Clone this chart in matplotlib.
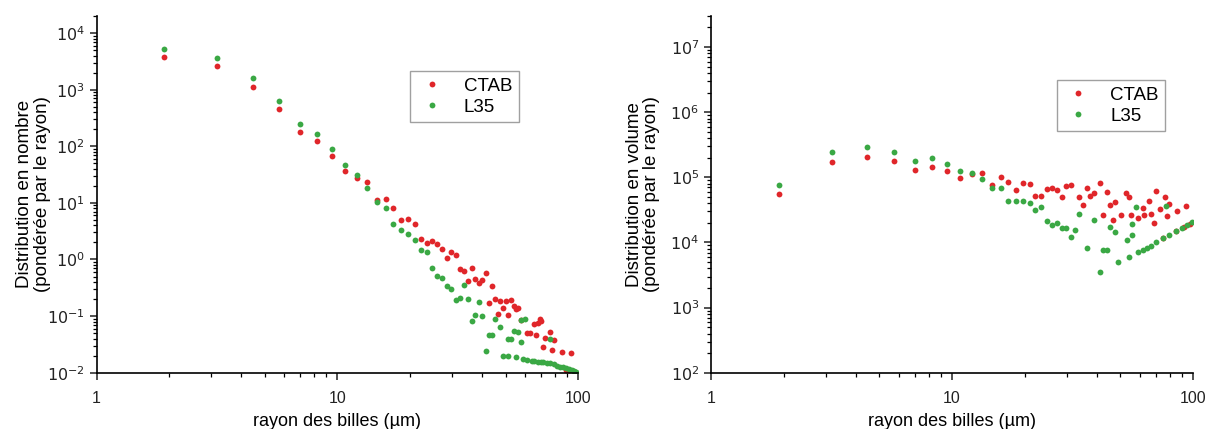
import matplotlib
matplotlib.use("Agg")
import matplotlib.pyplot as plt
from matplotlib.ticker import LogLocator, FixedLocator, FuncFormatter, NullFormatter
import numpy as np

plt.rcParams['font.family'] = ['Liberation Sans', 'DejaVu Sans']

# ---- number distribution (left panel) ----
x_nb_ctab = [1.91, 3.18, 4.45, 5.72, 6.99, 8.26, 9.53, 10.8, 12.1, 13.3, 14.6, 15.9, 17.1, 18.4,
             19.7, 21.0, 22.2, 23.5, 24.8, 26.0, 27.3, 28.6, 29.8, 31.1, 32.4, 33.7, 34.9, 36.2,
             37.5, 38.7, 40.0, 41.3, 42.5, 43.8, 45.1, 46.4, 47.6, 48.9, 50.2, 51.4, 52.7, 54.0,
             55.2, 56.5, 57.8, 61.6, 62.9, 65.4, 66.7, 67.9, 69.2, 70.5, 71.8, 73.0, 76.8, 78.1,
             79.4, 85.7, 89.5, 92.1, 93.3, 97.2]
y_nb_ctab = [3810, 2580, 1110, 454, 180, 124, 67, 36, 28, 23, 11.4, 11.8, 8.1, 5.0,
             5.1, 4.2, 2.3, 1.93, 2.15, 1.87, 1.51, 1.05, 1.36, 1.18, 0.69, 0.63, 0.42, 0.70,
             0.46, 0.39, 0.43, 0.57, 0.168, 0.34, 0.20, 0.109, 0.187, 0.137, 0.187, 0.105, 0.19, 0.15,
             0.135, 0.137, 0.085, 0.050, 0.051, 0.074, 0.046, 0.076, 0.088, 0.083, 0.029, 0.041, 0.053, 0.025,
             0.038, 0.0235, 0.011, 0.011, 0.022, 0.0105]

x_nb_l35 = [1.91, 3.18, 4.45, 5.72, 6.99, 8.26, 9.53, 10.8, 12.1, 13.3, 14.6, 15.9, 17.1, 18.4,
            19.7, 21.0, 22.2, 23.5, 24.8, 26.0, 27.3, 28.6, 29.8, 31.1, 32.4, 33.7, 34.9, 36.2,
            37.5, 38.7, 40.0, 41.3, 42.5, 43.8, 45.1, 47.6, 48.9, 51.4, 52.7, 54.0, 56.5, 57.8,
            57.8, 60.3, 76.8,
            51.4, 55.2, 59.0, 61.6, 64.1, 65.4, 67.9, 70.5, 71.8, 74.3, 76.8, 79.4, 81.9, 84.5,
            87.0, 89.5, 92.1, 94.6, 95.9, 98.4]
y_nb_l35 = [5150, 3610, 1600, 637, 250, 164, 89, 47, 31, 18.5, 10.2, 8.1, 4.2, 3.3,
            2.8, 2.2, 1.5, 1.37, 0.70, 0.51, 0.48, 0.34, 0.30, 0.19, 0.21, 0.35, 0.20, 0.083,
            0.106, 0.18, 0.10, 0.0245, 0.046, 0.046, 0.088, 0.063, 0.020, 0.039, 0.039, 0.054, 0.053, 0.035,
            0.085, 0.088, 0.039,
            0.0195, 0.0187, 0.0175, 0.0167, 0.0163, 0.0161, 0.0157, 0.0154, 0.0153, 0.0150, 0.0147, 0.0140, 0.0133, 0.0128,
            0.0124, 0.0120, 0.0115, 0.0110, 0.0107, 0.0102]

# ---- volume distribution (right panel) ----
x_vol_ctab = [1.91, 3.18, 4.45, 5.72, 6.99, 8.26, 9.53, 10.8, 12.1, 13.3, 14.6, 15.9, 17.1, 18.4,
              19.7, 21.0, 22.2, 23.5, 24.8, 26.0, 27.3, 28.6, 29.8, 31.1, 33.7, 34.9, 36.2, 37.5,
              38.7, 41.3, 42.5, 43.8, 45.1, 46.4, 47.6, 50.2, 52.7, 54.0, 55.2, 59.3, 62.2, 62.9,
              65.4, 66.7, 69.2, 70.5, 73.0, 75.1, 76.8, 78.1, 79.4, 84.7, 85.7, 91.5, 93.3, 97.0]
y_vol_ctab = [55000, 174000, 205000, 180000, 129000, 146000, 124000, 96000, 112000, 115000, 75900, 99600, 85500, 65000,
              80500, 78500, 51300, 51300, 66700, 68100, 63500, 50200, 73100, 75000, 49500, 37300, 67400, 51300,
              56500, 80500, 26200, 59200, 37300, 22200, 41500, 26800, 57800, 50200, 26200, 23900, 34000, 26800,
              43000, 27100, 20000, 61200, 32800, 11750, 50200, 25200, 39600, 14800, 30100, 17500, 36000, 19500]

x_vol_l35 = [1.91, 3.18, 4.45, 5.72, 6.99, 8.26, 9.53, 10.8, 12.1, 13.3, 14.6, 15.9, 17.1, 18.4,
             19.7, 21.0, 22.2, 23.5, 24.8, 26.0, 27.3, 28.6, 29.8, 31.1, 32.4, 33.7, 36.2, 38.7,
             41.3, 42.5, 43.8, 45.1, 47.6, 48.9, 53.1, 54.0, 55.7, 55.7, 58.0, 59.3, 62.2, 64.3,
             66.7, 70.2, 75.1, 77.3, 79.8, 84.7, 89.6, 94.3, 99.4]
y_vol_l35 = [75900, 244000, 292000, 248000, 177000, 195000, 162000, 123000, 115000, 92700, 69000, 67400, 43000, 43000,
             43000, 40500, 32000, 35200, 21400, 18400, 20000, 16900, 16900, 12200, 15400, 27800, 8240, 21900,
             3520, 7740, 7740, 17100, 14500, 5000, 11000, 5990, 19500, 13200, 35200, 7150, 7740, 8240,
             8710, 10050, 11750, 36000, 13200, 14800, 16700, 18400, 20700]

yticks_nb = [1e-2, 1e-1, 1e0, 1e1, 1e2, 1e3, 1e4]
yticks_vol = [1e2, 1e3, 1e4, 1e5, 1e6, 1e7]
xticks = [1, 10, 100]

red = '#e0262a'
green = '#3aa844'


def pow10(v, pos):
    e = int(round(np.log10(v)))
    return r'$10^{%d}$' % e


def style_axes(ax, ymin, ymax, yticks, ylabel, ylab_x, legend_pos):
    ax.set_xscale('log')
    ax.set_yscale('log')
    ax.set_xlim(1, 100)
    ax.set_ylim(ymin, ymax)
    for s in ['top', 'right']:
        ax.spines[s].set_visible(False)
    for s in ['left', 'bottom']:
        ax.spines[s].set_linewidth(1.2)
    ax.xaxis.set_major_locator(FixedLocator(xticks))
    ax.xaxis.set_minor_locator(LogLocator(base=10, subs=np.arange(2, 10)))
    ax.xaxis.set_major_formatter(FuncFormatter(lambda v, p: '%g' % v))
    ax.xaxis.set_minor_formatter(NullFormatter())
    ax.yaxis.set_major_locator(FixedLocator(yticks))
    ax.yaxis.set_minor_locator(LogLocator(base=10, subs=np.arange(2, 10), numticks=20))
    ax.yaxis.set_major_formatter(FuncFormatter(pow10))
    ax.yaxis.set_minor_formatter(NullFormatter())
    ax.tick_params(which='major', direction='out', length=5, width=1.1, labelsize=11.5, colors='#222222')
    ax.tick_params(axis='x', which='major', pad=8)
    ax.tick_params(which='minor', direction='out', length=3, width=0.9)
    ax.set_xlabel('rayon des billes (µm)', fontsize=13, labelpad=5)
    ax.set_ylabel(ylabel, fontsize=13.5, linespacing=1.05)
    ax.yaxis.set_label_coords(ylab_x, 0.5)
    leg = ax.legend(loc='upper left', bbox_to_anchor=legend_pos, fontsize=13.5, frameon=True,
                    fancybox=False, edgecolor='#888888', handletextpad=0.9, borderpad=0.35,
                    labelspacing=0.2, markerscale=1.0, handlelength=1.6, borderaxespad=0)
    leg.get_frame().set_linewidth(1.0)


fig = plt.figure(figsize=(12.08, 4.29), dpi=100)
ax1 = fig.add_axes([0.0799, 0.1312, 0.3986, 0.8315])
ax2 = fig.add_axes([0.5886, 0.1312, 0.3990, 0.8315])

ms = 4.2
ax1.plot(x_nb_ctab, y_nb_ctab, 'o', color=red, ms=ms, mec='none', label='CTAB')
ax1.plot(x_nb_l35, y_nb_l35, 'o', color=green, ms=ms, mec='none', label='L35')
style_axes(ax1, 1e-2, 2e4, yticks_nb, 'Distribution en nombre\n(pondérée par le rayon)', -0.095, (0.652, 0.845))

ax2.plot(x_vol_ctab, y_vol_ctab, 'o', color=red, ms=ms, mec='none', label='CTAB')
ax2.plot(x_vol_l35, y_vol_l35, 'o', color=green, ms=ms, mec='none', label='L35')
style_axes(ax2, 1e2, 3e7, yticks_vol, 'Distribution en volume\n(pondérée par le rayon)', -0.105, (0.717, 0.82))

fig.savefig('out.png', dpi=100)
